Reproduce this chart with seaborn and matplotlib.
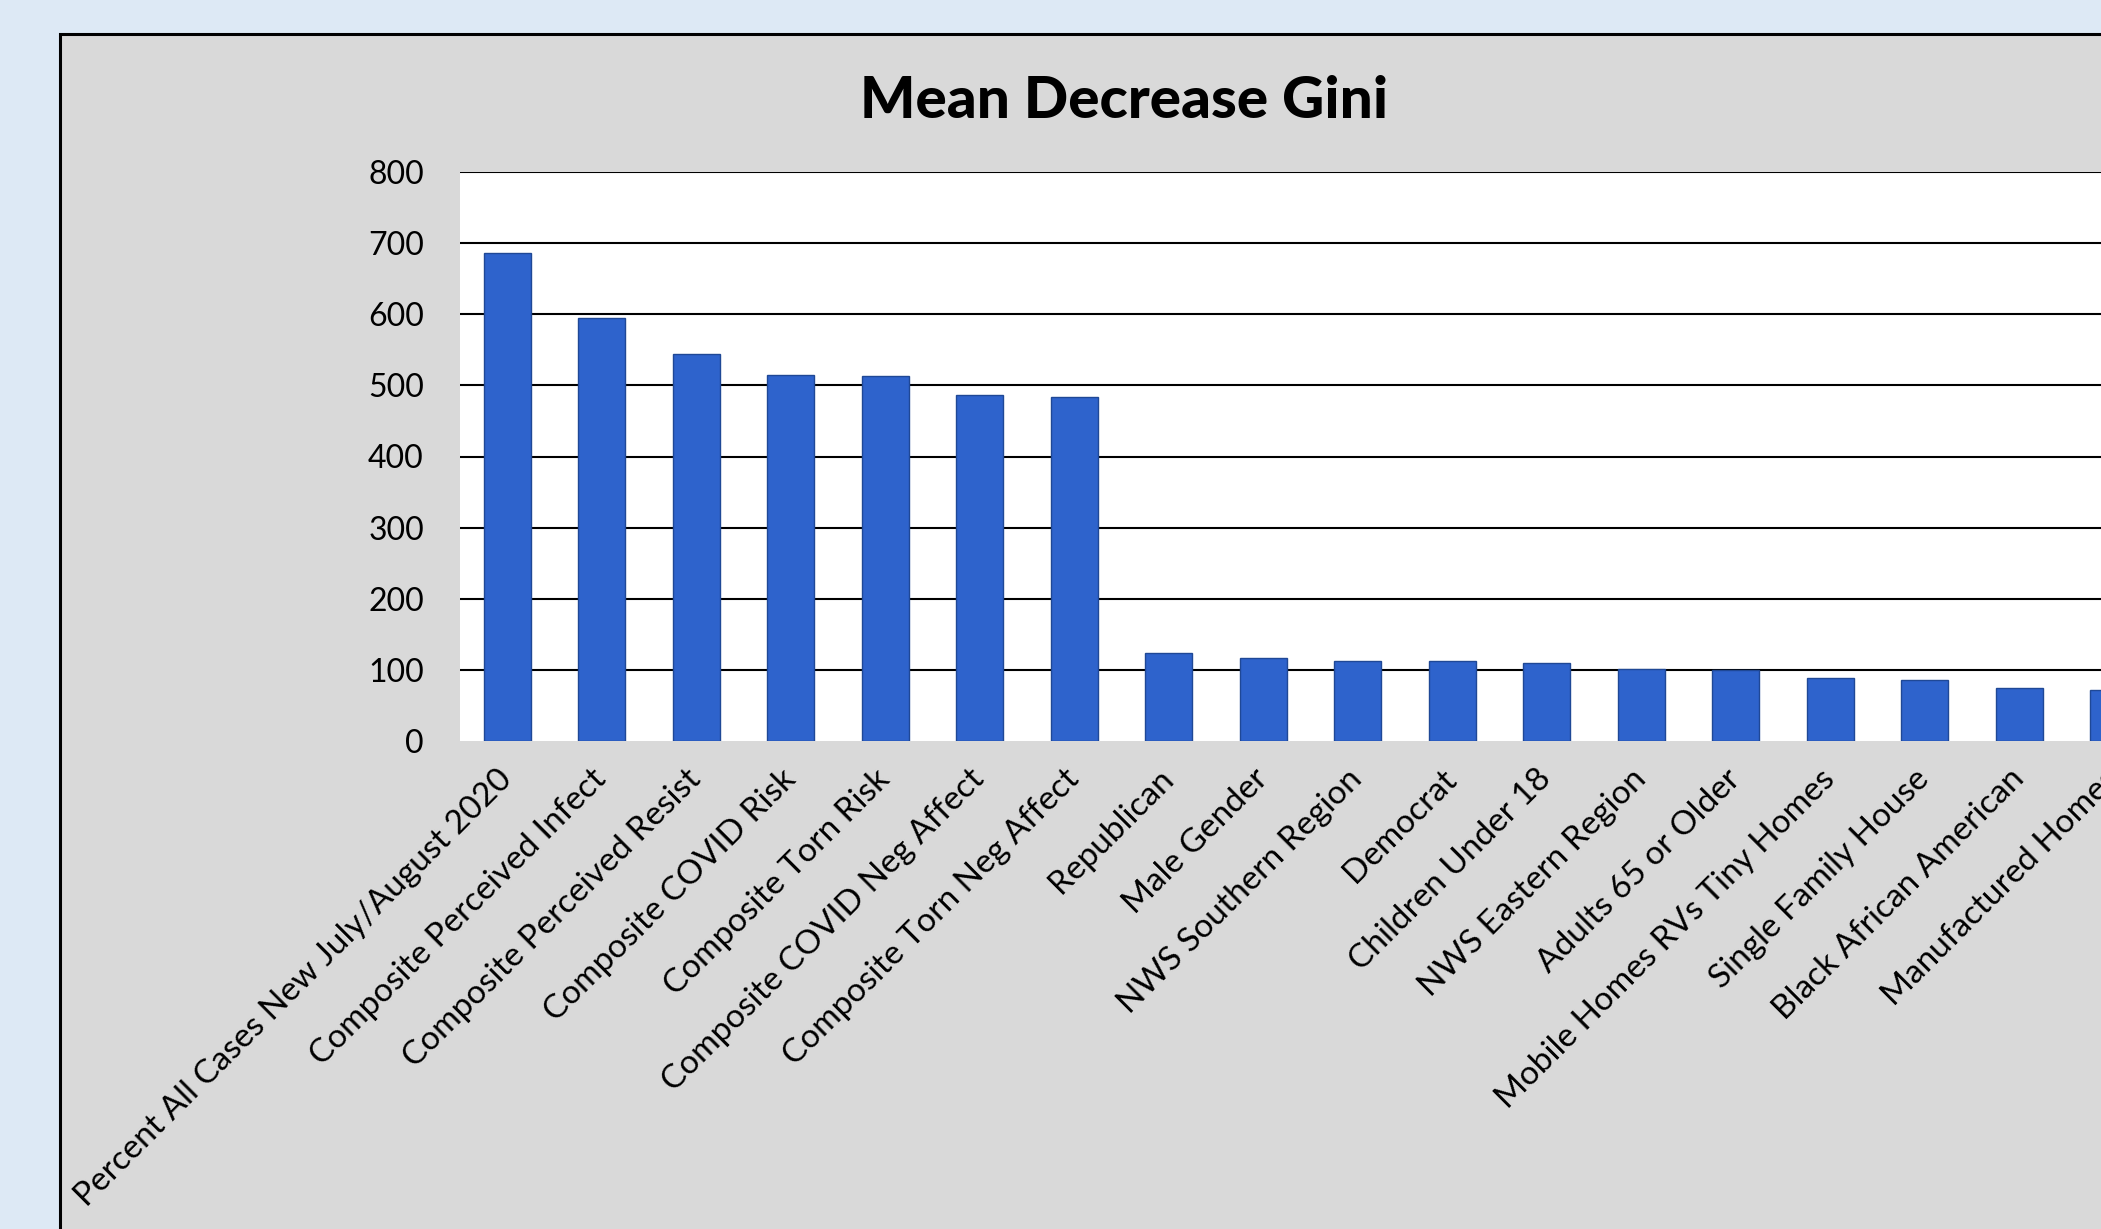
import matplotlib
matplotlib.use("Agg")
import matplotlib.pyplot as plt
import seaborn as sns
from matplotlib.patches import Rectangle

# data
features = [
    "Percent All Cases New July/August 2020",
    "Composite Perceived Infect",
    "Composite Perceived Resist",
    "Composite COVID Risk",
    "Composite Torn Risk",
    "Composite COVID Neg Affect",
    "Composite Torn Neg Affect",
    "Republican",
    "Male Gender",
    "NWS Southern Region",
    "Democrat",
    "Children Under 18",
    "NWS Eastern Region",
    "Adults 65 or Older",
    "Mobile Homes RVs Tiny Homes",
    "Single Family House",
    "Black African American",
    "Manufactured Homes",
]
gini = [686, 595, 544, 514, 513, 486, 483, 124, 116, 113, 113, 109,
        101, 100, 89, 86, 75, 72]
y_ticks = [0, 100, 200, 300, 400, 500, 600, 700, 800]

sns.set_style("white")
plt.rcParams['font.family'] = ['Lato', 'DejaVu Sans']
plt.rcParams['text.color'] = 'black'
plt.rcParams['xtick.color'] = 'black'
plt.rcParams['ytick.color'] = 'black'

W, H = 2101, 1229
fig = plt.figure(figsize=(W / 100, H / 100), dpi=100)
fig.patch.set_facecolor("#dde9f5")

# grey chart frame (runs off the right and bottom edge, like the source)
frame = Rectangle((60 / W, -0.2), 1.2, 1.2 - 34 / H, transform=fig.transFigure,
                  facecolor="#d9d9d9", edgecolor="black", linewidth=2.2, zorder=0)
fig.patches.append(frame)

ax = fig.add_axes([460 / W, 1 - 741 / H, 1701 / W, (741 - 172) / H])
ax.set_zorder(2)
ax.set_facecolor("white")

sns.barplot(x=features, y=gini, color="#2e63cc", width=0.5, ax=ax,
            edgecolor="#1f4896", linewidth=1.0, saturation=1)

ax.set_ylim(0, 800)
ax.set_xlim(-0.5, len(features) - 0.5)
ax.set_yticks(y_ticks)
ax.yaxis.grid(True, color="black", linewidth=1.5)
ax.set_axisbelow(True)
ax.yaxis.get_major_ticks()[0].gridline.set_visible(False)
for s in ax.spines.values():
    s.set_visible(False)

ax.tick_params(axis="y", length=0, pad=26, labelsize=23)
ax.tick_params(axis="x", length=0, pad=24, labelsize=24)
ax.set_xticks(range(len(features)))
ax.set_xticklabels(features, rotation=45, ha="right", rotation_mode="anchor", va="center")
ax.set_xlabel("")
ax.set_ylabel("")

t = fig.text(1124 / W, 1 - 101 / H, "Mean Decrease Gini", ha="center", va="center",
             fontsize=42, fontweight="black")
t.set_zorder(3)

fig.savefig("out.png", dpi=100, facecolor=fig.get_facecolor())
